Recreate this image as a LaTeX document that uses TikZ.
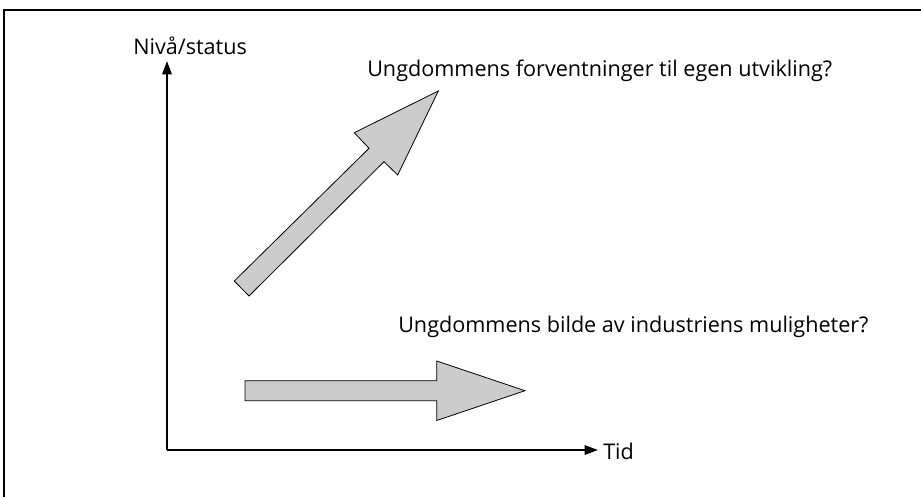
\documentclass[tikz,border=0pt]{standalone}
\usepackage{fontspec}
\setmainfont{Open Sans}
\usetikzlibrary{arrows.meta}

\begin{document}
\begin{tikzpicture}[x = 0.75pt, y = -0.75pt,
  fatarrow/.style = {draw=black, line width=0.6pt, fill=black!20, line join=miter},
  axis/.style = {line width=1.5pt, -{Triangle[length=10pt,width=7pt]}},
  tekst/.style = {anchor=base west, inner sep=0pt, font=\fontsize{16.2}{19}\selectfont},]

\useasboundingbox (0,0) rectangle (921,497);

% ramme
\draw[line width=1.5pt] (4,497) -- (4,10) -- (921,10);

\coordinate (O) at (167,450);
\coordinate (Y) at (167,61);
\coordinate (X) at (598,450);

\draw[axis] (O) -- (Y);
\draw[axis] (O) -- (X);

\node[tekst] (niva) at (133,54) {Nivå/status};
\node[tekst] (tid) at (603,459) {Tid};
\node[tekst] (forv) at (367,76) {Ungdommens forventninger til egen utvikling?};
\node[tekst] (bilde) at (398,332) {Ungdommens bilde av industriens muligheter?};

% piler
\draw[fatarrow] (234.3,281) -- (369,148.3) -- (354.3,132.7) -- (438.3,91)
  -- (397.7,175) -- (384,161.7) -- (249,296) -- cycle;
\draw[fatarrow] (245,380.7) -- (436.7,380.7) -- (436.7,361) -- (525,390.7)
  -- (436.7,420.5) -- (436.7,400.7) -- (245,400.7) -- cycle;

\end{tikzpicture}
\end{document}
